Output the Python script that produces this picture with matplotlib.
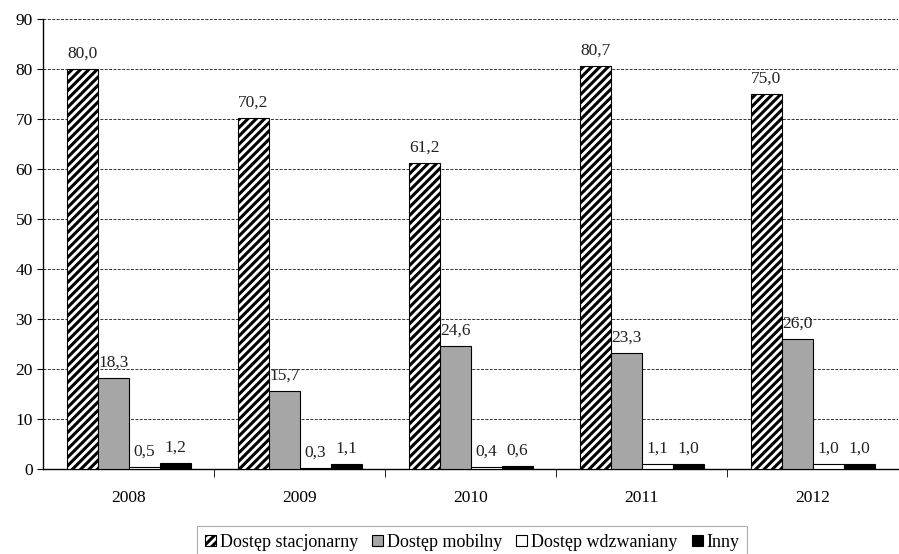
import matplotlib.pyplot as plt
import numpy as np

plt.rcParams['font.family'] = ['Liberation Serif', 'DejaVu Serif']
plt.rcParams['hatch.linewidth'] = 2.2

years = ['2008', '2009', '2010', '2011', '2012']
series = ['Dostęp stacjonarny', 'Dostęp mobilny', 'Dostęp wdzwaniany', 'Inny']
stacjonarny = [80.0, 70.2, 61.2, 80.7, 75.0]
mobilny = [18.3, 15.7, 24.6, 23.3, 26.0]
wdzwaniany = [0.5, 0.3, 0.4, 1.1, 1.0]
inny = [1.2, 1.1, 0.6, 1.0, 1.0]

values = [stacjonarny, mobilny, wdzwaniany, inny]
colors = ['white', '#a6a6a6', 'white', 'black']
hatches = ['////', None, None, None]

fig = plt.figure(figsize=(8.99, 5.54), dpi=100)
ax = fig.add_axes([0.048, 0.1534, 0.951, 0.8123])

x = np.arange(len(years))
w = 0.181
for i, (vals, c, h, name) in enumerate(zip(values, colors, hatches, series)):
    pos = x + (i - 1.5) * w
    ax.bar(pos, vals, w, color=c, edgecolor='black', linewidth=0.8,
           hatch=h, label=name, zorder=3)
    for p, v in zip(pos, vals):
        ax.annotate(f'{v:.1f}'.replace('.', ','), (p, v), xytext=(0, 5),
                    textcoords='offset points', ha='center', va='bottom',
                    fontsize=12.5, color='#222222', zorder=4)

ax.set_ylim(0, 90)
ax.set_xlim(-0.5, len(years) - 0.5)
ax.set_yticks(range(0, 91, 10))
ax.tick_params(axis='y', labelsize=12.5, length=4, direction='out')
ax.yaxis.grid(True, linestyle=(0, (3, 1.5)), color='#333333', linewidth=0.7, zorder=0)

# category labels centered, ticks between categories
ax.set_xticks(x)
ax.set_xticklabels(years, fontsize=12.5)
ax.tick_params(axis='x', length=0, pad=15)
ax.set_xticks(np.arange(0.5, len(years) - 0.5, 1), minor=True)
ax.tick_params(axis='x', which='minor', length=6, direction='out')

for s in ['top', 'right']:
    ax.spines[s].set_visible(False)
ax.spines['left'].set_linewidth(1.0)
ax.spines['bottom'].set_linewidth(1.0)

leg = fig.legend(loc='upper left', bbox_to_anchor=(197 / 899, 1 - 526 / 554),
                 ncol=4, fontsize=13, frameon=True, fancybox=False,
                 handlelength=0.6, handleheight=0.6, handletextpad=0.2,
                 columnspacing=0.8, borderpad=0.45, borderaxespad=0)
leg.get_frame().set_edgecolor('#999999')
leg.get_frame().set_linewidth(0.8)

fig.savefig('out.png', dpi=100)
